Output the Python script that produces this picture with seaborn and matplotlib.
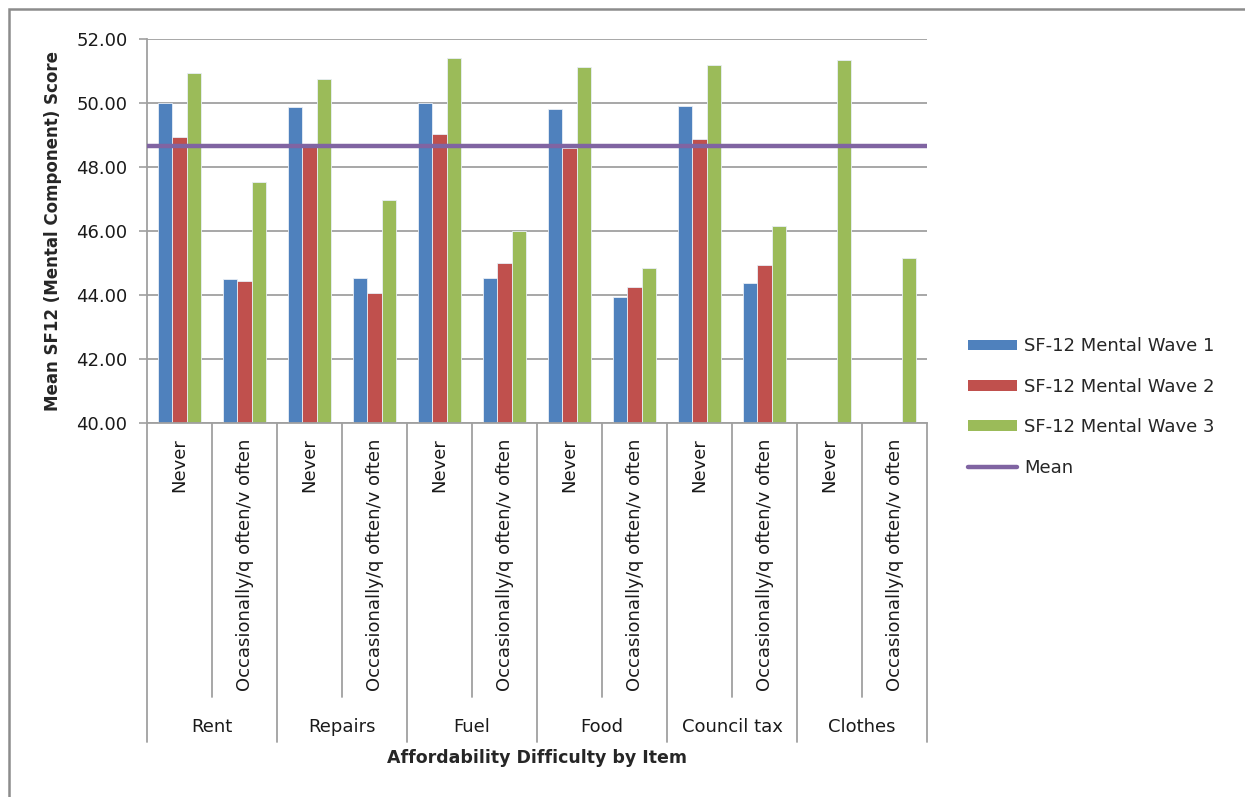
import numpy as np
import pandas as pd
import matplotlib
matplotlib.use("Agg")
import matplotlib.pyplot as plt
import matplotlib.transforms as mtransforms
from matplotlib.patches import Patch, Rectangle
from matplotlib.lines import Line2D
import seaborn as sns

# ---- data -------------------------------------------------------------
items = ["Rent", "Repairs", "Fuel", "Food", "Council tax", "Clothes"]
responses = ["Never", "Occasionally/q often/v often"]
waves = ["SF-12 Mental Wave 1", "SF-12 Mental Wave 2", "SF-12 Mental Wave 3"]

# one value per (item, response), in item order: Never, Occasionally...
wave1 = [50.00, 44.49, 49.88, 44.52, 50.00, 44.52, 49.81, 43.93, 49.92, 44.36, np.nan, np.nan]
wave2 = [48.93, 44.44, 48.62, 44.05, 49.02, 45.01, 48.60, 44.24, 48.89, 44.93, np.nan, np.nan]
wave3 = [50.93, 47.52, 50.74, 46.97, 51.42, 46.00, 51.13, 44.83, 51.19, 46.17, 51.33, 45.16]
overall_mean = 48.66

y_ticks = [40, 42, 44, 46, 48, 50, 52]

# ---- styling ----------------------------------------------------------
colors = ["#4F81BD", "#C0504D", "#9BBB59"]
mean_color = "#8064A2"
grid_color = "#A0A0A0"
text_color = "#1A1A1A"
fs = 13

sns.set_theme(style="white")
plt.rcParams["font.family"] = ["DejaVu Sans"]

slots = [f"{it}|{r}" for it in items for r in responses]
rows = []
for wname, vals in zip(waves, [wave1, wave2, wave3]):
    for s, v in zip(slots, vals):
        rows.append({"slot": s, "wave": wname, "score": v})
df = pd.DataFrame(rows)

fig = plt.figure(figsize=(12.45, 7.97), dpi=100)
ax = fig.add_axes([147 / 1245, 1 - 423 / 797, 780 / 1245, 384 / 797])

sns.barplot(data=df, x="slot", y="score", hue="wave", order=slots,
            hue_order=waves, palette=colors, saturation=1, width=0.65, ax=ax,
            errorbar=None, edgecolor="#E8EEF6", linewidth=0.6, legend=False)

ax.set_ylim(40, 52)
ax.set_xlim(-0.5, len(slots) - 0.5)
ax.set_yticks(y_ticks)
ax.set_yticklabels([f"{t:.2f}" for t in y_ticks], fontsize=fs, color=text_color)
ax.yaxis.grid(True, color=grid_color, linewidth=1.3)
ax.set_axisbelow(True)
ax.tick_params(axis="y", left=True, length=6, width=1.2, color=grid_color, pad=8)

for side in ["top", "right"]:
    ax.spines[side].set_visible(False)
for side in ["left", "bottom"]:
    ax.spines[side].set_color(grid_color)
    ax.spines[side].set_linewidth(1.3)

# mean line
ax.axhline(overall_mean, color=mean_color, linewidth=3.2, solid_capstyle="round", zorder=5)

# multi-level category axis
ax.set_xticks(range(len(slots)))
ax.set_xticklabels([s.split("|")[1] for s in slots], rotation=90, va="top",
                   fontsize=fs, color=text_color)
ax.tick_params(axis="x", bottom=False, pad=5)
ax.set_xlabel("")
ax.set_ylabel("Mean SF12 (Mental Component) Score", fontsize=12,
              fontweight="bold", labelpad=10)

trans = mtransforms.blended_transform_factory(ax.transData, ax.transAxes)
px = 1 / 384.0  # one pixel in axes-y units
inner_bottom = -(697 - 423) * px
outer_bottom = -(742 - 423) * px
for g in range(len(items) + 1):
    x = 2 * g - 0.5
    ax.plot([x, x], [0, outer_bottom], transform=trans, color=grid_color,
            linewidth=1.3, clip_on=False)
for g in range(len(items)):
    x = 2 * g + 0.5
    ax.plot([x, x], [0, inner_bottom], transform=trans, color=grid_color,
            linewidth=1.3, clip_on=False)
    ax.text(2 * g + 0.5, -(727 - 423) * px, items[g], transform=trans,
            ha="center", va="center", fontsize=fs, color=text_color)

ax.text(0.5, -(758 - 423) * px, "Affordability Difficulty by Item",
        transform=ax.transAxes, ha="center", va="center", fontsize=12.5,
        fontweight="bold")

# legend
handles = [Patch(facecolor=c, edgecolor="none") for c in colors]
handles.append(Line2D([0], [0], color=mean_color, linewidth=3.2,
                      solid_capstyle="round"))
fig.legend(handles, waves + ["Mean"], loc="center left",
           bbox_to_anchor=(952 / 1245, 1 - 407 / 797), frameon=False,
           fontsize=fs, handlelength=2.7, handleheight=0.55,
           handletextpad=0.4, labelspacing=1.24)

# outer chart frame
fig.patches.append(Rectangle((9 / 1245, -0.01), 1.1, 1 - 9 / 797 + 0.01,
                             transform=fig.transFigure, fill=False,
                             edgecolor="#8C8C8C", linewidth=1.8))

fig.savefig("out.png", dpi=100)
